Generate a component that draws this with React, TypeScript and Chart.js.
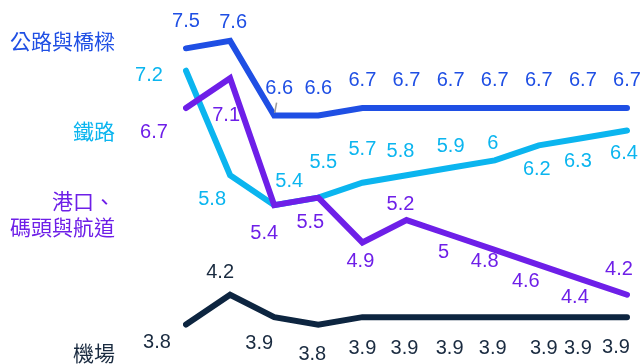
import React, { useEffect, useRef } from "react";
import { Chart, registerables } from "chart.js";

Chart.register(...registerables);

const categories = ["1", "2", "3", "4", "5", "6", "7", "8", "9", "10", "11"];
const seriesNames = ["公路與橋樑", "港口、\n碼頭與航道", "鐵路", "機場"];
const roadValues = [7.5, 7.6, 6.6, 6.6, 6.7, 6.7, 6.7, 6.7, 6.7, 6.7, 6.7];
const portValues = [6.7, 7.1, 5.4, 5.5, 4.9, 5.2, 5, 4.8, 4.6, 4.4, 4.2];
const railValues = [7.2, 5.8, 5.4, 5.5, 5.7, 5.8, 5.9, 6, 6.2, 6.3, 6.4];
const airportValues = [3.8, 4.2, 3.9, 3.8, 3.9, 3.9, 3.9, 3.9, 3.9, 3.9, 3.9];

const colors = ["#1f4fe4", "#6e1fe8", "#0bb5ef", "#0d2540"];
const labelColors = ["#1f4fe4", "#6e1fe8", "#0bb5ef", "#1a2b40"];

// label offsets (px) relative to each point, per series
const labelOffsets: number[][][] = [
  [[0, -27], [3, -18], [5, -27], [0, -27], [0, -28], [0, -28], [0, -28], [0, -28], [0, -28], [0, -28], [0, -28]],
  [[-32, 24], [-4, 37], [-10, 28], [-8, 25], [-2, 19], [-6, -16], [-7, 17], [-10, 12], [-13, 17], [-8, 18], [-8, -25]],
  [[-37, 5], [-18, 24], [15, -24], [5, -35], [0, -33], [-6, -24], [0, -21], [-2, -17], [-2, 24], [-5, 24], [-3, 23]],
  [[-29, 18], [-10, -22], [-15, 26], [-6, 30], [0, 31], [-2, 31], [-1, 31], [-2, 31], [5, 31], [-5, 31], [-11, 30]],
];
// leader line: [series, index]
const leaders = [[0, 2]];
// series name positions (right edge x, center y)
const namePositions = [
  [115, 41],
  [115, 214],
  [115, 131],
  [115, 353],
];

const labelPlugin = {
  id: "valueLabels",
  afterDatasetsDraw(chart: any) {
    const ctx = chart.ctx;
    ctx.save();
    ctx.textAlign = "center";
    ctx.textBaseline = "middle";
    ctx.font = '20px "Liberation Sans", Arial, sans-serif';
    chart.data.datasets.forEach((ds: any, si: number) => {
      const meta = chart.getDatasetMeta(si);
      ctx.fillStyle = labelColors[si];
      meta.data.forEach((pt: any, i: number) => {
        const off = labelOffsets[si][i];
        ctx.fillText(String(ds.data[i]), pt.x + off[0], pt.y + off[1]);
      });
    });
    // leader lines
    ctx.strokeStyle = "#9a9a9a";
    ctx.lineWidth = 1.5;
    leaders.forEach(([si, i]) => {
      const pt = chart.getDatasetMeta(si).data[i];
      const off = labelOffsets[si][i];
      ctx.beginPath();
      ctx.moveTo(pt.x + off[0] * 0.1, pt.y + off[1] * 0.1);
      ctx.lineTo(pt.x + off[0] * 0.48, pt.y + off[1] * 0.48);
      ctx.stroke();
    });
    // series names
    ctx.textAlign = "right";
    ctx.font = '21px "Noto Sans CJK TC", "Noto Sans", sans-serif';
    seriesNames.forEach((name, si) => {
      const lines = name.split("\n");
      const [x, y] = namePositions[si];
      const lh = 26;
      ctx.fillStyle = labelColors[si];
      lines.forEach((ln, k) => {
        const yy = y + (k - (lines.length - 1) / 2) * lh;
        ctx.fillText(ln, x, yy);
      });
    });
    ctx.restore();
  },
};

export default function App() {
  const ref = useRef<HTMLCanvasElement>(null);
  useEffect(() => {
    if (!ref.current) return;
    const values = [roadValues, portValues, railValues, airportValues];
    const chart = new Chart(ref.current, {
      type: "line",
      data: {
        labels: categories,
        datasets: values.map((v, i) => ({
          label: seriesNames[i],
          data: v,
          borderColor: colors[i],
          backgroundColor: colors[i],
          borderWidth: 6,
          pointRadius: 0,
          tension: 0,
          borderCapStyle: "round" as const,
          borderJoinStyle: "miter" as const,
          fill: false,
        })),
      },
      options: {
        responsive: false,
        animation: false,
        layout: { padding: { left: 186, right: 13, top: 11, bottom: 17 } },
        plugins: { legend: { display: false }, tooltip: { enabled: false } },
        scales: {
          x: { display: false, offset: false },
          y: { display: false, min: 3.5, max: 8 },
        },
      },
      plugins: [labelPlugin],
    });
    return () => chart.destroy();
  }, []);
  return (
    <div style={{ position: "absolute", left: 0, top: 0, width: 640, height: 364, background: "#fff" }}>
      <canvas ref={ref} width={640} height={364} />
    </div>
  );
}
